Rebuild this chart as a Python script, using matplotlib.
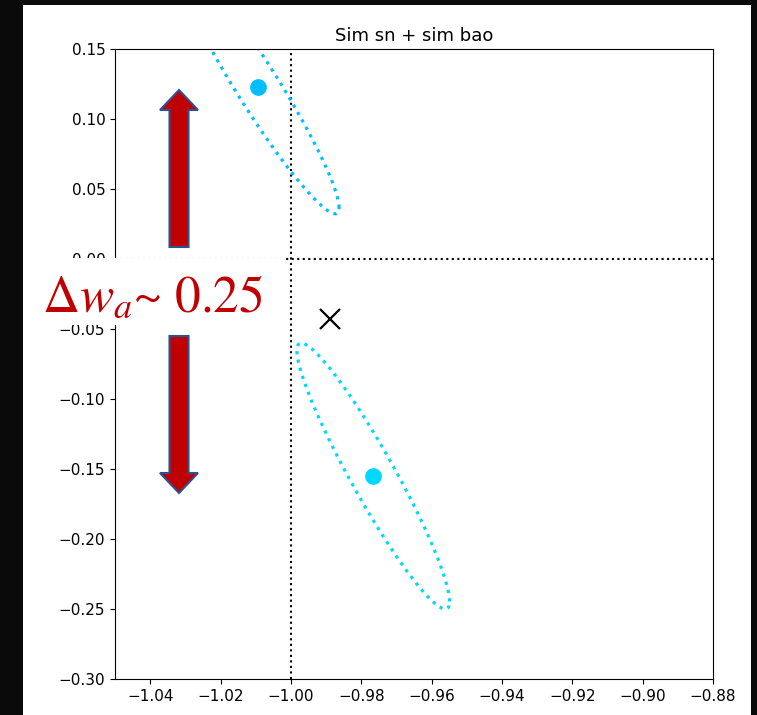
import numpy as np
import matplotlib.pyplot as plt
from matplotlib.patches import Rectangle, FancyArrow

plt.rcParams['mathtext.fontset'] = 'stix'

# fiducial cosmology (black cross)
w0_fid = -0.989
wa_fid = -0.043

# best fits of the two simulations and their 1-sigma contours
w0_fit = [-1.0094, -0.9766]
wa_fit = [0.123, -0.155]
sig_w0 = [0.0231, 0.0217]
sig_wa = [0.0907, 0.095]
rho = [-0.952, -0.943]
fit_colors = ['#00BFFF', '#00D8FF']

xticks = [-1.04, -1.02, -1.00, -0.98, -0.96, -0.94, -0.92, -0.90, -0.88]
yticks = [0.15, 0.10, 0.05, 0.00, -0.05, -0.10, -0.15, -0.20, -0.25, -0.30]

W, H = 757, 715

def fx(px):
    return px / W

def fy(py):
    return 1 - py / H

fig = plt.figure(figsize=(W / 100, H / 100), dpi=100)
ax = fig.add_axes([fx(115), fy(679), fx(713) - fx(115), fy(49) - fy(679)])

ax.axvline(-1.0, color='black', ls=':', lw=1.5)
ax.axhline(0.0, color='black', ls=':', lw=1.5)

t = np.linspace(0, 2 * np.pi, 500)
for i in range(2):
    ex = w0_fit[i] + sig_w0[i] * np.cos(t)
    ey = wa_fit[i] + sig_wa[i] * (rho[i] * np.cos(t) + np.sqrt(1 - rho[i] ** 2) * np.sin(t))
    ax.plot(ex, ey, ls=':', lw=2.3, color=fit_colors[i])
    ax.plot(w0_fit[i], wa_fit[i], 'o', ms=11, color=fit_colors[i])

ax.plot(w0_fid, wa_fid, 'x', ms=14, mew=1.6, color='black')

ax.set_xlim(-1.05, -0.88)
ax.set_ylim(-0.30, 0.15)
ax.set_xticks(xticks)
ax.set_yticks(yticks)
ax.tick_params(labelsize=11)
ax.set_title('Sim sn + sim bao', fontsize=13)

# white label box pasted over the axis
fig.patches.append(Rectangle((fx(23), fy(325)), fx(285) - fx(23), fy(258) - fy(325),
                             transform=fig.transFigure, facecolor='white',
                             edgecolor='none', zorder=5))
fig.text(fx(42), fy(312), r'$\Delta w_a$~ 0.25', fontsize=37, color='#C00000',
         family='STIXGeneral', ha='left', va='baseline', zorder=6)

# red arrows
tr = fig.dpi_scale_trans
for y0, y1 in [(247, 90), (336, 493)]:
    fig.patches.append(FancyArrow(1.79, (H - y0) / 100, 0, (y0 - y1) / 100,
                                  width=0.19, head_width=0.38, head_length=0.2,
                                  length_includes_head=True, transform=tr,
                                  facecolor='#C00000', edgecolor='#2F528F',
                                  lw=1.5, zorder=6))

# black screenshot border
for x0, y0, w, h in [(0, 0, 23, H), (0, 0, W, 5), (751, 0, 6, H)]:
    fig.patches.append(Rectangle((fx(x0), fy(y0 + h)), w / W, h / H,
                                 transform=fig.transFigure, facecolor='#0a0a0a',
                                 edgecolor='none', zorder=7))

fig.savefig('out.png', dpi=100)
